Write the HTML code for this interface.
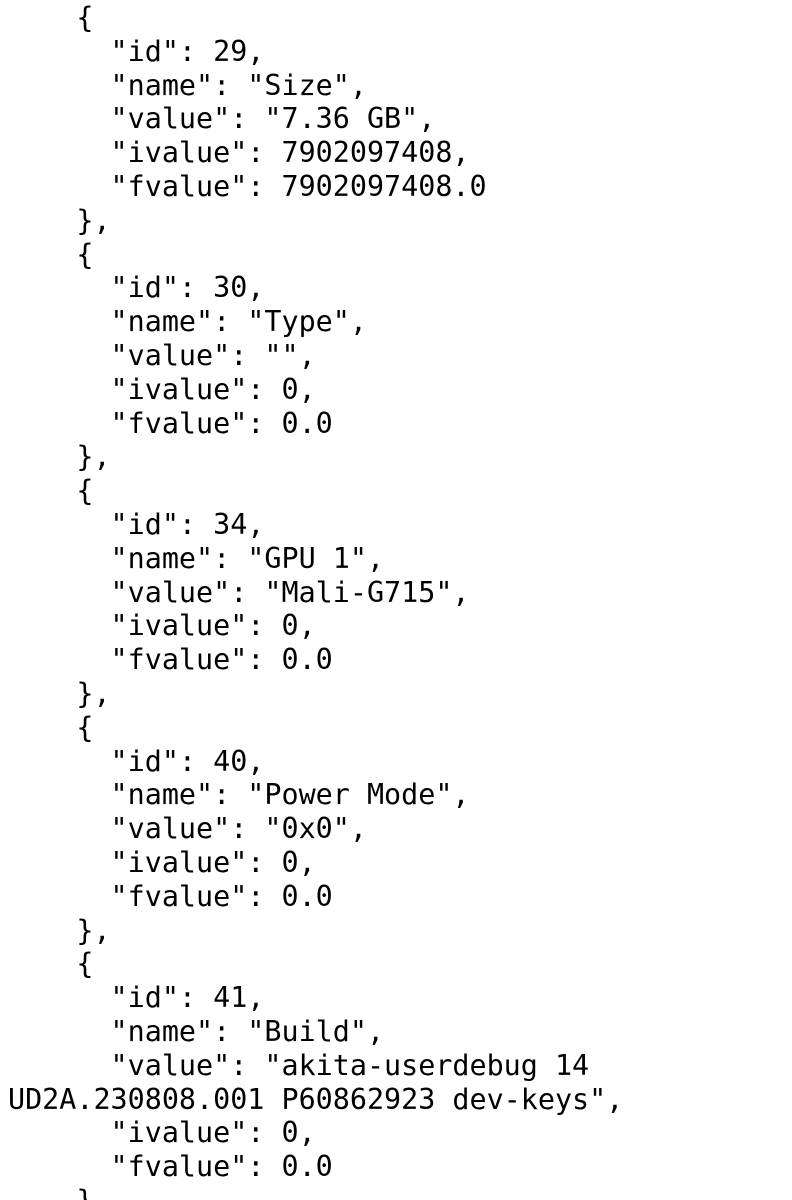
<!DOCTYPE html>
<html><head><meta charset="utf-8"><style>
html,body{margin:0;padding:0;background:#fff;width:792px;height:1200px;overflow:hidden}
pre{margin:0;padding:1px 0 0 8px;font-family:"DejaVu Sans Mono","Liberation Mono",monospace;font-size:28.4px;line-height:33.8px;color:#000;white-space:pre}
</style></head><body><pre>    {
      "id": 29,
      "name": "Size",
      "value": "7.36 GB",
      "ivalue": 7902097408,
      "fvalue": 7902097408.0
    },
    {
      "id": 30,
      "name": "Type",
      "value": "",
      "ivalue": 0,
      "fvalue": 0.0
    },
    {
      "id": 34,
      "name": "GPU 1",
      "value": "Mali-G715",
      "ivalue": 0,
      "fvalue": 0.0
    },
    {
      "id": 40,
      "name": "Power Mode",
      "value": "0x0",
      "ivalue": 0,
      "fvalue": 0.0
    },
    {
      "id": 41,
      "name": "Build",
      "value": "akita-userdebug 14
UD2A.230808.001 P60862923 dev-keys",
      "ivalue": 0,
      "fvalue": 0.0
    }</pre></body></html>
